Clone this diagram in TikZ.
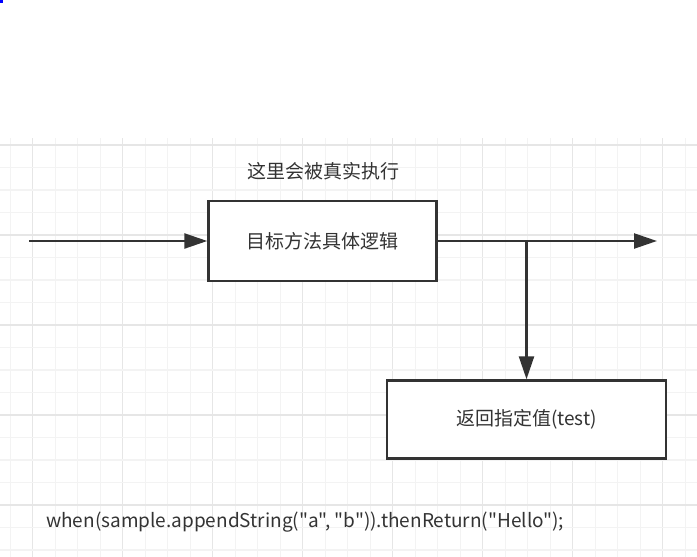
\documentclass[tikz,border=0pt]{standalone}
\usepackage{fontspec}
\setmainfont{Noto Sans CJK SC}[Ligatures=TeXOff]
\usetikzlibrary{arrows.meta}
\definecolor{linegray}{HTML}{333333}
\definecolor{gridminor}{HTML}{F3F3F3}
\definecolor{gridmajor}{HTML}{E6E6E6}
\begin{document}
\begin{tikzpicture}[x=1pt, y=-1pt, font=\fontsize{19}{23}\selectfont,
  box/.style={rectangle, draw=linegray, fill=white, line width=2.4pt, inner sep=0pt, text=linegray},
  flow/.style={-{Triangle[length=23pt, width=15pt]}, draw=linegray, line width=2.4pt}]
  \useasboundingbox (0,0) rectangle (697,557);
  \fill[blue] (0,0) rectangle (3,3);
  % grid
  \foreach \i in {0,...,30} {
    \pgfmathtruncatemacro{\m}{mod(\i+3,4)}
    \ifnum\m=0 \def\gc{gridmajor}\else \def\gc{gridminor}\fi
    \draw[\gc, line width=1.3pt] ({10.2+22.5*\i},138) -- ({10.2+22.5*\i},557);
  }
  \foreach \j in {0,...,18} {
    \pgfmathtruncatemacro{\m}{mod(\j,4)}
    \ifnum\m=0 \def\gc{gridmajor}\else \def\gc{gridminor}\fi
    \draw[\gc, line width=1.3pt] (0,{145+22.5*\j}) -- (697,{145+22.5*\j});
  }

  \node[text=linegray] (note) at (323,171) {这里会被真实执行};
  \node[box, minimum width=228pt, minimum height=80pt] (logic) at (322.5,241) {目标方法具体逻辑};
  \node[box, minimum width=279pt, minimum height=78pt] (ret) at (526.5,419.5) {返回指定值(test)};
  \node[text=linegray, anchor=base west, inner sep=0pt] (code) at (46,527)
    {when(sample.appendString("a", "b")).thenReturn("Hello");};

  \coordinate (start) at (29,241);
  \coordinate (end) at (657,241);
  \coordinate (split) at (526.5,241);

  \draw[flow] (start) -- (logic);
  \draw[flow] (logic) -- (end);
  \draw[flow] (split) -- (ret);
\end{tikzpicture}
\end{document}
